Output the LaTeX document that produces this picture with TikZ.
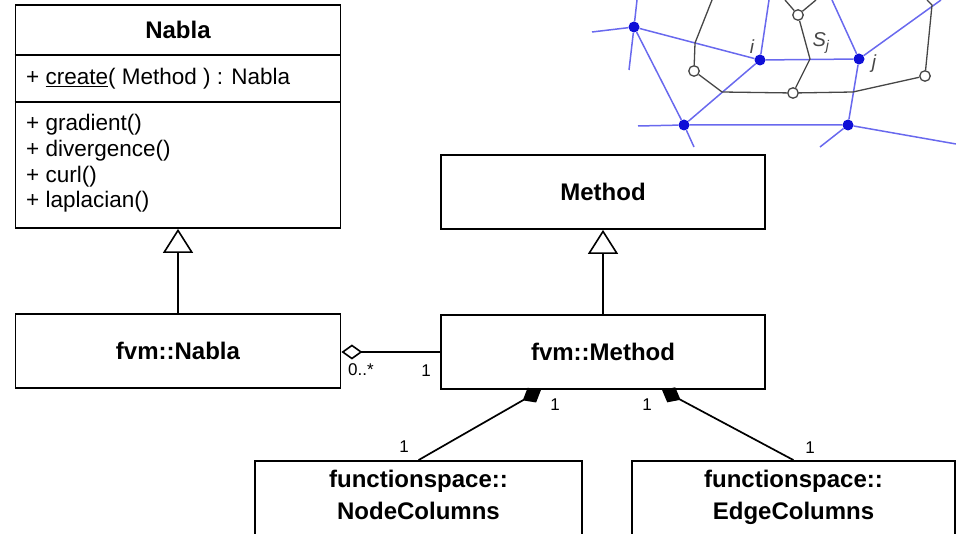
\documentclass[tikz,border=0pt]{standalone}
\usepackage{fontspec}
\setmainfont{Liberation Sans}
\usetikzlibrary{arrows.meta}
\definecolor{meshblue}{RGB}{105,105,238}
\definecolor{meshnode}{RGB}{15,15,215}
\definecolor{meshgray}{RGB}{70,70,70}
\begin{document}
\begin{tikzpicture}[x=1pt,y=-1pt,
  classbox/.style={draw=black, line width=1.8pt, inner sep=0pt, font=\fontsize{24}{28}\selectfont\bfseries},
  classname/.style={inner sep=0pt, font=\fontsize{24}{32}\selectfont\bfseries, align=center},
  member/.style={anchor=base west, inner sep=0pt, font=\fontsize{22.5}{26}\selectfont},
  mult/.style={inner sep=0pt, font=\fontsize{17}{20}\selectfont},
  conn/.style={line width=1.7pt},
  inherit/.style={conn, -{Triangle[open, length=24pt, width=30pt, line width=1.6pt]}},
  aggreg/.style={conn, -{Diamond[open, length=21pt, width=15pt, line width=1.6pt]}},
  compos/.style={conn, -{Diamond[length=21pt, width=17pt]}},
  blueedge/.style={draw=meshblue, line width=1.5pt},
  grayedge/.style={draw=meshgray, line width=1.3pt},
  vertex/.style={circle, fill=meshnode, inner sep=0pt, minimum size=11pt},
  facept/.style={circle, draw=meshgray, fill=white, line width=1.3pt, inner sep=0pt, minimum size=10.5pt},
  meshlabel/.style={inner sep=0pt, text=meshgray, font=\fontsize{19}{22}\selectfont\itshape},
]
\useasboundingbox (0,0) rectangle (956,534);
\clip (0,0) rectangle (956,534);

% ---------- dual mesh sketch (top right) ----------
\node[vertex] (vA) at (634,27) {};
\node[vertex] (vI) at (760,60) {};
\node[vertex] (vJ) at (859,59) {};
\node[vertex] (vB) at (684,125) {};
\node[vertex] (vC) at (848,125) {};
\node[facept] (f1) at (694,71) {};
\node[facept] (f2) at (798,15) {};
\node[facept] (f3) at (793,93) {};
\node[facept] (f4) at (925,76) {};
\coordinate (e1) at (695,43);
\coordinate (e2) at (722,92);
\coordinate (e3) at (853,92);
\coordinate (e4) at (810,59);
\coordinate (e5) at (932,5);

% primal edges
\begin{scope}[blueedge]
  \draw (592,32) -- (vA) -- (637,0);
  \draw (vA) -- (629,70);
  \draw (vA) -- (vI) -- (vJ);
  \draw (vA) -- (vB) -- (vI);
  \draw (638,126) -- (vB) -- (vC) -- (956,144);
  \draw (vB) -- (694,147);
  \draw (vC) -- (820,147);
  \draw (vI) -- (769,0);
  \draw (vJ) -- (832,0);
  \draw (vJ) -- (941,0);
  \draw (vJ) -- (vC);
\end{scope}
% dual edges
\begin{scope}[grayedge]
  \draw (712,0) -- (e1) -- (f1);
  \draw (f1) -- (e2) -- (f3) -- (e3) -- (f4);
  \draw (f4) -- (e5) -- (927,0);
  \draw (785,0) -- (f2) -- (816,0);
  \draw (f2) -- (e4) -- (f3);
\end{scope}
\node[meshlabel] (li) at (752,47) {i};
\node[meshlabel] (lj) at (874,64) {j};
\node[meshlabel, font=\fontsize{20}{22}\selectfont\itshape] (ls) at (821,43) {S\textsubscript{j}};

% ---------- classes ----------
\node[classbox, minimum width=325pt, minimum height=223pt] (nabla) at (178,116.5) {};
\coordinate (sepA) at (0,55);
\coordinate (sepB) at (0,102);
\draw[line width=1.8pt] (nabla.west |- sepA) -- (nabla.east |- sepA);
\draw[line width=1.8pt] (nabla.west |- sepB) -- (nabla.east |- sepB);
\node[classname] (nablatitle) at (178,30) {Nabla};
\node[member] (create) at (26,85) {+ \underline{create}( Method ) : Nabla};
\node[member] (grad) at (26,131) {+ gradient()};
\node[member] (div) at (26,157) {+ divergence()};
\node[member] (curl) at (26,183) {+ curl()};
\node[member] (lapl) at (26,208) {+ laplacian()};

\node[classbox, minimum width=325pt, minimum height=74pt] (fvmnabla) at (178,351) {fvm::Nabla};
\node[classbox, minimum width=324pt, minimum height=74pt] (method) at (603,192) {Method};
\node[classbox, minimum width=324pt, minimum height=74pt] (fvmmethod) at (603,352) {fvm::Method};
\node[classbox, minimum width=327pt, minimum height=84pt] (nodecols) at (418.5,503) {};
\node[classbox, minimum width=323pt, minimum height=84pt] (edgecols) at (793.5,503) {};
\node[classname, anchor=north] (nodecolstxt) at (418.5,470) {functionspace::\\NodeColumns};
\node[classname, anchor=north] (edgecolstxt) at (793.5,470) {functionspace::\\EdgeColumns};

% ---------- relations ----------
\draw[inherit] (fvmnabla.north) -- (nabla.south);
\draw[inherit] (fvmmethod.north) -- (method.south);
\draw[aggreg] (fvmmethod.west) -- (fvmnabla.east |- fvmmethod.west);
\draw[compos] (nodecols.north) -- ([xshift=-62pt]fvmmethod.south);
\draw[compos] (edgecols.north) -- ([xshift=59pt]fvmmethod.south);

\node[mult] (m1) at (361,370) {0..*};
\node[mult] (m2) at (426,371) {1};
\node[mult] (m3) at (555,405) {1};
\node[mult] (m4) at (647,405) {1};
\node[mult] (m5) at (404,447) {1};
\node[mult] (m6) at (810,448) {1};
\end{tikzpicture}
\end{document}
